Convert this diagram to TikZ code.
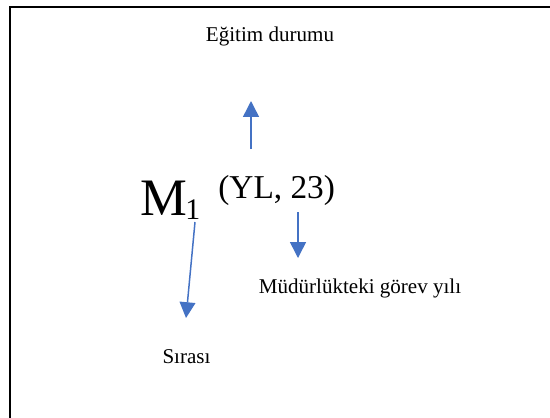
\documentclass[tikz,border=0pt]{standalone}
\usepackage{fontspec}
\setmainfont{Liberation Serif}
\usetikzlibrary{arrows.meta, positioning}
\definecolor{wordblue}{HTML}{4472C4}
\tikzset{
  label/.style={inner sep=0pt,anchor=base,font=\fontsize{12}{14}\selectfont},
  line/.style={draw=wordblue,line width=0.85pt,-{Triangle[length=9pt,width=9pt]}}
}

\begin{document}
\begin{tikzpicture}[x=0.57pt, y=-0.57pt]
\clip (0,0) rectangle (550,417);
\draw[line width=0.8pt] (10,7) rectangle (570,440);
\node[label] (egitim) at (270,41) {Eğitim durumu};
\node[label, anchor=base west, font=\fontsize{30}{34}\selectfont] (m) at (140,215) {M};
\node[label, anchor=base west, font=\fontsize{17}{19}\selectfont] (sub) at (185,219) {1};
\node[label, anchor=base west, font=\fontsize{19}{22}\selectfont] (paren) at (218,198) {(YL, 23)};
\node[label] (gorev) at (360,293) {Müdürlükteki görev yılı};
\node[label] (sira) at (186.5,363) {Sırası};
\coordinate (egitim-s) at (251,149);
\coordinate (egitim-t) at (251,101);
\coordinate (gorev-s) at (298,212);
\coordinate (gorev-t) at (298,258);
\coordinate (sira-s) at (195,222);
\coordinate (sira-t) at (186,318);
\draw[line] (egitim-s) -- (egitim-t);
\draw[line] (gorev-s) -- (gorev-t);
\draw[line] (sira-s) -- (sira-t);
\end{tikzpicture}
\end{document}
